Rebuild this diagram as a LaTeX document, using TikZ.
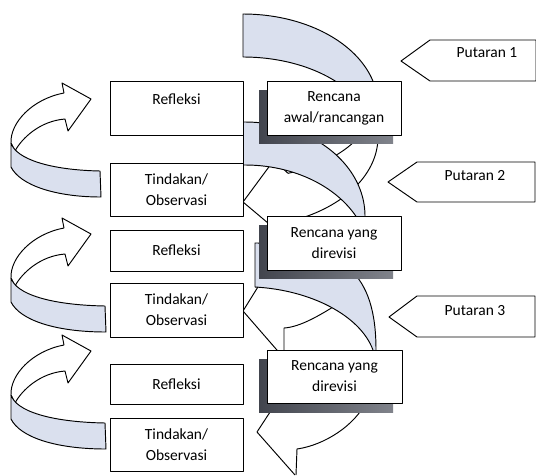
\documentclass[tikz,border=0pt]{standalone}
\usepackage{fontspec}
\setmainfont{Carlito}
\definecolor{bandblue}{RGB}{218,224,238}
\definecolor{shadowdark}{RGB}{66,69,78}
\definecolor{shadowlight}{RGB}{128,131,139}
\newcommand{\sidearrow}[2]{%
  \begin{scope}[shift={(0,#1)}]
    \draw[whiteshape] (11,60) .. controls (10,40) and (32,16) .. (64,10) -- (62,0) -- (91,16) -- (68,48) -- (65,36) .. controls (40,38) and (22,55) .. (15,68) -- cycle;
    \draw[band] (11,60) .. controls (16,76) and (50,87) .. (#2,88) -- ({#2+1},114) .. controls (55,114) and (20,102) .. (11,84) -- cycle;
  \end{scope}}
\begin{document}
\begin{tikzpicture}[x=1pt,y=-1pt,line join=round,
  outl/.style={draw=black,line width=0.95pt},
  band/.style={outl,fill=bandblue},
  whiteshape/.style={outl,fill=white},
  labelbox/.style={draw=black,line width=1pt,fill=white,inner sep=0pt,align=center,
    font=\fontsize{15.5}{21}\selectfont},
  shadowbox/.style={left color=shadowdark,right color=shadowlight},
  puttext/.style={font=\fontsize{15.5}{18}\selectfont,anchor=base}]
\useasboundingbox (0,0) rectangle (536,475);
\fill[white] (0,0) rectangle (536,475);

% ---- front (white) parts of the spiral arrows ----
\coordinate (f1tip) at (243,202);
\draw[outl] plot[domain=-20:70,samples=50] ({243+135*cos(\x)},{137+90*sin(\x)});
\draw[outl] plot[domain=10:69.9,samples=50] ({243+131*cos(\x)},{101+77*sin(\x)});
\draw[outl] (274,160) -- (f1tip) -- (281,234);
\draw[outl] (274,160) -- (288,173.3);

\coordinate (f2tip) at (243,311);
\draw[outl] (261,282) -- (f2tip) -- (283,357);
\draw[outl] (350,296) .. controls (320,316) and (300,327) .. (284,328) -- (284,362);

\coordinate (f3tip) at (257,432);
\draw[outl] (274,406) -- (f3tip) -- (295,475);
\draw[outl] (366,402) .. controls (355,425) and (325,445) .. (297,449) -- (296,475);

% ---- back (blue) bands of the spiral ----
\draw[band] (243,57) -- (243,14)
  -- plot[domain=90:10,samples=50] ({243+135*cos(\x)},{106-92*sin(\x)})
  -- plot[domain=35:90,samples=50] ({243+131*cos(\x)},{140-83*sin(\x)}) -- cycle;
\draw[band] (243.5,165) -- (243.5,122)
  -- plot[domain=90:-5,samples=50] ({245+120*cos(\x)},{216-94*sin(\x)})
  -- plot[domain=22:90,samples=50] ({245+125*cos(\x)},{260-95*sin(\x)}) -- (243.5,165) -- cycle;
\draw[band] (255,287) -- (255,243) .. controls (345,243) and (376,275) .. (376,350) -- (376,358)
  -- (374,358) -- (373,350) .. controls (360,315) and (310,290) .. (255,287) -- cycle;

% ---- left curved arrows ----
\sidearrow{83}{100}
\sidearrow{218}{105}
\sidearrow{335}{105}

% ---- left boxes ----
\node[labelbox,minimum width=133pt,minimum height=54pt] (refl1) at (176.5,108) {Refleksi\\[-4pt]\mbox{}};
\node[labelbox,minimum width=133pt,minimum height=53pt] (tind1) at (176.5,189.5) {Tindakan/\\Observasi};
\node[labelbox,minimum width=133pt,minimum height=41pt] (refl2) at (176.5,250.5) {Refleksi};
\node[labelbox,minimum width=133pt,minimum height=54pt] (tind2) at (176.5,310) {Tindakan/\\Observasi};
\node[labelbox,minimum width=133pt,minimum height=40pt] (refl3) at (176.5,384) {Refleksi};
\node[labelbox,minimum width=133pt,minimum height=53pt] (tind3) at (176.5,444.5) {Tindakan/\\Observasi};

% ---- plan boxes with shadows ----
\shade[shadowbox] (259,90) rectangle (393,143);
\node[labelbox,minimum width=134pt,minimum height=54pt] (ren1) at (334,108) {Rencana\\awal/rancangan};
\shade[shadowbox] (259,225) rectangle (393,278);
\node[labelbox,minimum width=134pt,minimum height=54pt] (ren2) at (334,243) {Rencana yang\\direvisi};
\shade[shadowbox] (259,359) rectangle (393,412);
\node[labelbox,minimum width=135pt,minimum height=53pt] (ren3) at (334.5,376.5) {Rencana yang\\direvisi};

% ---- Putaran tags ----
\draw[whiteshape] (401,61) -- (430,40) -- (536,40) -- (536,81) -- (430,81) -- cycle;
\node[puttext] (put1) at (487,57) {Putaran 1};
\draw[whiteshape] (388,182) -- (417,162) -- (535,162) -- (535,202) -- (417,202) -- cycle;
\node[puttext] (put2) at (475,180) {Putaran 2};
\draw[whiteshape] (389,317) -- (417,296) -- (535,296) -- (535,337) -- (417,337) -- cycle;
\node[puttext] (put3) at (475,315) {Putaran 3};
\end{tikzpicture}
\end{document}
